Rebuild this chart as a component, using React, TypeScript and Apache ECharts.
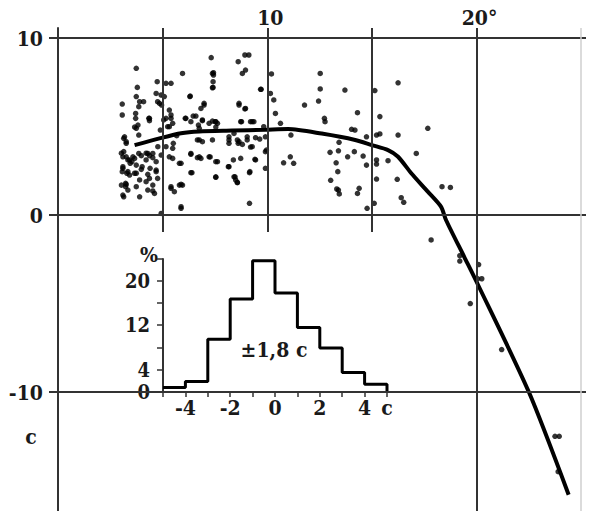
import { useEffect, useRef } from 'react';
import * as echarts from 'echarts';

// scatter of individual measurements [x, y]
const scatterPoints: [number, number][] = [
  [3.74,8.29],[3.07,6.27],[3.07,5.65],[3.79,7.21],[3.74,6.69],[4.09,6.40],[3.86,6.12],[3.71,5.74],[3.71,5.46],[4.34,5.46],
  [3.82,5.08],[3.74,4.90],[3.86,4.52],[3.18,4.42],[3.26,4.05],[3.14,3.58],[3.10,3.29],[3.34,3.11],[3.45,2.92],[3.10,2.73],
  [3.07,2.45],[3.29,2.36],[3.66,2.36],[3.74,2.82],[3.58,3.29],[3.86,3.48],[4.29,3.48],[4.53,3.48],[4.21,3.11],[4.02,2.73],
  [4.40,2.64],[4.69,2.54],[3.90,1.98],[4.21,1.88],[3.23,1.79],[3.23,1.60],[3.34,1.41],[3.14,1.03],[3.90,1.03],[4.29,1.41],
  [4.61,1.22],[4.74,7.53],[4.69,6.87],[4.93,6.78],[5.08,6.69],[4.85,6.31],[5.16,7.44],[5.40,7.44],[5.32,5.93],[5.16,5.46],
  [5.40,5.46],[5.48,5.18],[5.24,4.99],[4.89,4.80],[4.77,3.86],[5.16,3.86],[5.48,3.20],[5.88,2.92],[6.35,3.48],[6.40,2.39],
  [5.40,1.51],[5.56,1.32],[5.80,1.69],[5.95,1.69],[4.93,0.09],[5.88,0.38],[5.95,8.00],[6.30,6.69],[6.11,5.46],[6.46,5.59],
  [6.71,5.08],[6.83,6.02],[6.98,6.21],[6.90,5.33],[7.22,5.18],[7.51,5.27],[7.38,8.00],[7.41,7.21],[7.41,7.53],[7.32,8.89],
  [7.62,5.18],[6.75,4.24],[6.90,4.14],[6.75,3.29],[7.22,3.29],[7.62,3.01],[7.54,2.16],[8.17,4.42],[8.17,4.05],[8.41,4.61],
  [8.57,4.24],[8.65,6.21],[8.96,6.02],[8.77,5.27],[9.20,5.27],[9.36,5.27],[9.04,4.42],[9.28,3.86],[8.61,4.05],[8.73,3.20],
  [8.17,2.73],[8.46,2.16],[8.49,1.98],[8.57,1.83],[9.15,2.39],[9.44,3.11],[9.15,0.66],[8.61,8.66],[8.93,9.04],[9.12,9.04],
  [8.96,8.19],[8.81,8.00],[9.68,7.10],[10.20,7.97],[10.15,6.87],[10.31,6.50],[10.39,5.74],[9.91,4.42],[9.91,3.58],[9.91,2.64],
  [10.78,2.95],[11.10,3.29],[11.26,2.92],[11.13,4.52],[10.63,5.18],
  [12.53,8.00],[12.53,7.12],[12.45,6.44],[11.78,6.21],[13.71,7.06],[12.73,5.46],[12.76,5.27],[14.31,5.78],[14.03,4.84],[14.19,4.80],
  [14.74,4.42],[13.43,4.11],[13.00,3.54],[13.40,3.63],[13.84,3.29],[14.16,3.58],[14.58,3.33],[13.29,2.95],[13.37,2.45],[13.03,1.96],
  [13.32,1.47],[13.40,1.41],[13.44,1.19],[14.39,1.51],[14.31,1.22],[14.74,2.82],[14.77,0.38],[15.11,0.66],[15.14,7.03],[15.38,5.56],
  [15.22,4.52],[15.38,4.58],[15.22,3.11],[15.22,2.88],[15.22,2.03],[15.77,3.07],[16.25,7.47],[16.25,4.52],[16.21,2.02],[16.40,0.98],
  [16.52,0.72],[17.12,3.48],[17.67,4.90],[18.35,1.60],[18.75,1.56],
  [3.14,4.33],[3.26,4.14],[5.67,4.48],[5.51,4.05],[5.48,3.77],[3.03,3.49],[3.26,3.29],[3.42,3.11],[3.53,3.01],[3.66,3.20],
  [3.98,3.35],[4.21,3.49],[4.37,3.35],[4.53,3.24],[4.69,3.01],[4.93,3.39],[5.32,3.29],[5.80,2.92],[3.10,2.64],[3.34,2.45],
  [3.42,2.26],[3.74,2.36],[3.98,2.58],[4.29,2.30],[4.37,2.07],[4.69,2.45],[4.76,2.07],[3.03,1.69],[3.26,1.73],[3.74,1.60],
  [4.53,1.69],[4.53,1.36],[5.40,1.60],[5.88,1.73],[3.10,1.13],[5.88,0.47],
  [3.90,6.40],[4.76,6.40],[4.95,6.21],[5.40,5.65],[4.37,5.46],[4.37,5.33],[5.05,5.37],[6.08,5.46],[3.66,4.97],[5.32,4.99],
  [7.43,8.04],[7.43,7.91],[7.38,7.19],[6.32,6.72],[6.98,6.31],[9.71,7.10],[8.65,6.31],[8.93,5.99],[6.35,5.27],[6.59,5.59],
  [6.90,5.37],[7.38,5.31],[7.54,5.27],[8.73,5.27],[9.28,5.27],[9.83,4.99],[6.75,4.90],[7.54,4.97],
  [6.35,3.43],[6.66,3.24],[6.83,3.20],[7.27,3.28],[7.54,3.01],[8.38,3.11],[8.14,2.73],[6.35,2.39],[7.54,2.13],[8.41,2.16],
  [8.57,1.85],[9.17,2.45],[9.41,3.15],[9.20,3.84],[6.66,4.24],[7.38,4.24],[8.17,4.24],[8.65,4.14],[8.81,3.99],[9.04,4.24],
  [9.44,4.37],[9.64,4.29],[9.96,3.67]
];

// sparse points beyond the break
const trailingPoints: [number, number][] = [
  [17.83,-1.41],[19.2,-2.6],[19.2,-2.3],[20.1,-2.8],[20.05,-3.6],[20.25,-3.6],[19.7,-5.0],[21.2,-7.6],
  [23.75,-12.5],[23.95,-12.5],[23.9,-14.5]
];

// mean curve
const curvePoints: [number, number][] = [
  [3.66,3.95],[4.85,4.33],[5.88,4.62],[6.75,4.72],[8.33,4.77],[9.91,4.82],[11.0,4.86],[12.6,4.6],[14.2,4.24],
  [15.0,3.95],[15.77,3.67],[16.25,3.29],[16.88,2.36],[17.67,1.32],[18.3,0.47],[18.54,-0.28],[19.41,-2.36],
  [20.0,-3.77],[22.5,-10.0],[24.4,-15.8]
];

// residual histogram (bin left edges, percentages)
const histEdges = [-5, -4, -3, -2, -1, 0, 1, 2, 3, 4];
const histValues = [0.8, 1.9, 9.5, 16.7, 23.6, 17.8, 11.6, 7.9, 3.5, 1.4];
const histUpper = 5;

const mainTopLabels: Record<string, string> = { '10': '10', '20': '20°' };
const mainShortGridX = [5, 10, 15];
const mainGridY = [10, 0, -10];
const histYLabels = [0, 4, 12, 20];
const histXLabels: Record<string, string> = { '-4': '-4', '-2': '-2', '0': '0', '2': '2', '4': '4', '5': 'c' };

const FONT = "'DejaVu Serif Condensed', 'DejaVu Serif', serif";
const INK = '#1a1a1a';
const GRID = '#333333';
const FS = 21;

export default function App() {
  const ref = useRef<HTMLDivElement>(null);
  useEffect(() => {
    if (!ref.current) return;
    const chart = echarts.init(ref.current, undefined, { renderer: 'svg' });
    const labelFont = { fontFamily: FONT, fontWeight: 'bold' as const, fontSize: FS, color: INK };

    const histData: [number, number][] = histEdges.map((e, i) => [e, histValues[i]]);
    histData.push([histUpper, histValues[histValues.length - 1]]);
    histData.push([histUpper, 0]);

    const yTop = 10.565;
    const yBottom = -16.72;
    const markData: any[] = [
      ...mainGridY.map((v) => ({ yAxis: v })),
      { xAxis: 20 },
      { xAxis: 25, lineStyle: { color: '#cfcfcf', width: 1.5, type: 'solid' } },
      ...mainShortGridX.map((v) => [{ coord: [v, yTop] }, { coord: [v, -0.96] }]),
    ];
    const textStyle = (text: string) => ({
      text, fontFamily: FONT, fontWeight: 'bold', fontSize: FS, fill: INK, align: 'center', verticalAlign: 'middle',
    });

    chart.setOption({
      animation: false,
      backgroundColor: '#ffffff',
      grid: [
        { left: 58, top: 28, right: 0, bottom: 0 },
        { left: 163, top: 259, width: 224, height: 133 },
      ],
      xAxis: [
        {
          type: 'value', gridIndex: 0, position: 'top', min: 0, max: 25.23, interval: 5,
          axisLine: { show: false }, axisTick: { show: false }, splitLine: { show: false },
          axisLabel: {
            ...labelFont, margin: 0, padding: [0, 0, 0, 6],
            formatter: (v: number) => mainTopLabels[String(v)] ?? '',
          },
        },
        {
          type: 'value', gridIndex: 1, min: -5, max: 5, interval: 1,
          axisLine: { show: true, onZero: false, lineStyle: { color: GRID, width: 2 } },
          axisTick: { show: true, length: 5, lineStyle: { color: GRID, width: 1.5 } },
          splitLine: { show: false },
          axisLabel: { ...labelFont, margin: 5, formatter: (v: number) => histXLabels[String(v)] ?? '' },
        },
      ],
      yAxis: [
        {
          type: 'value', gridIndex: 0, min: yBottom, max: yTop,
          axisLine: { show: true, onZero: false, lineStyle: { color: GRID, width: 2 } },
          axisTick: { show: true, length: 9, customValues: mainGridY, lineStyle: { color: GRID, width: 2 } },
          splitLine: { show: false },
          axisLabel: { ...labelFont, margin: 15, customValues: mainGridY, formatter: (v: number) => String(v) },
        },
        {
          type: 'value', gridIndex: 1, min: 0, max: 23.9, interval: 4,
          axisLine: { show: true, onZero: false, lineStyle: { color: GRID, width: 2 } },
          axisTick: { show: true, length: 6, lineStyle: { color: GRID, width: 1.5 } },
          splitLine: { show: false },
          axisLabel: {
            ...labelFont, fontSize: 20, lineHeight: 16, margin: 13,
            formatter: (v: number) => (histYLabels.includes(v) ? String(v) : ''),
          },
        },
      ],
      series: [
        {
          type: 'scatter', xAxisIndex: 0, yAxisIndex: 0, z: 2,
          data: [...scatterPoints, ...trailingPoints],
          symbolSize: 5.5, itemStyle: { color: '#000000' }, silent: true,
          markLine: {
            silent: true, symbol: ['none', 'none'], label: { show: false },
            lineStyle: { color: GRID, width: 2, type: 'solid' },
            emphasis: { disabled: true },
            data: markData,
          },
        },
        {
          type: 'line', xAxisIndex: 0, yAxisIndex: 0, z: 3,
          data: curvePoints, smooth: 0.25, symbol: 'none',
          lineStyle: { color: '#000000', width: 4 }, silent: true,
        },
        {
          type: 'line', xAxisIndex: 1, yAxisIndex: 1, z: 3,
          data: histData, step: 'end', symbol: 'none',
          lineStyle: { color: '#000000', width: 3 }, silent: true,
        },
      ],
      graphic: [
        { type: 'text', x: 149, y: 254, style: textStyle('%') },
        { type: 'text', x: 31, y: 436, style: textStyle('c') },
        { type: 'text', x: 274, y: 349, style: textStyle('±1,8 c') },
      ],
    });
    return () => chart.dispose();
  }, []);
  return <div ref={ref} style={{ position: 'absolute', left: 0, top: 0, width: 589, height: 511 }} />;
}
